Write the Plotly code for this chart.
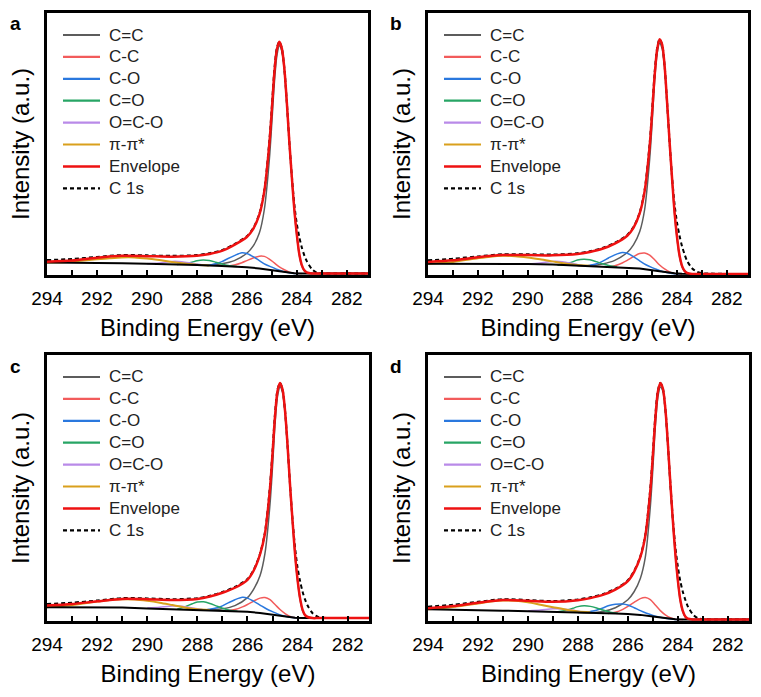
import plotly.graph_objects as go

# ---------------- data (binding energy in eV, intensity in a.u.) ----------------
E_MAIN = [294.0, 293.0, 292.0, 291.0, 290.0, 289.0, 288.0, 287.5, 287.0, 286.5,
          286.0, 285.75, 285.5, 285.3, 285.1, 285.0, 284.9, 284.8, 284.7, 284.6,
          284.5, 284.4, 284.3, 284.2, 284.1, 284.0, 283.9, 283.8, 283.7, 283.6,
          283.4, 283.2, 283.0, 282.5, 282.0, 281.0]
E_BG = [294.0, 292.0, 291.0, 290.0, 289.0, 288.0, 287.0, 286.5, 286.0, 285.5,
        285.0, 284.7, 284.4, 284.1, 283.8, 283.5, 283.0, 281.0]
E_CEC = [288.0, 287.5, 287.0, 286.5, 286.0, 285.75, 285.5, 285.3, 285.1, 285.0,
         284.9, 284.8, 284.7, 284.6, 284.5, 284.4, 284.3, 284.2, 284.1, 284.0,
         283.9, 283.8, 283.7, 283.6, 283.4]
E_CC = [286.8, 286.5, 286.2, 286.0, 285.75, 285.5, 285.3, 285.1, 284.9, 284.7,
        284.5, 284.3, 284.1, 283.8]
E_CO = [287.6, 287.2, 287.0, 286.75, 286.5, 286.2, 286.0, 285.75, 285.5, 285.25,
        285.0, 284.75, 284.5, 284.2, 283.9]
E_CEO = [288.8, 288.5, 288.2, 288.0, 287.75, 287.5, 287.25, 287.0, 286.7, 286.4]
E_OCO = [290.0, 289.5, 289.0, 288.6, 288.2, 287.8]
E_PI = [294.0, 293.0, 292.0, 291.5, 291.0, 290.5, 290.0, 289.5, 289.0, 288.5, 288.0, 287.5]

X_TICKS = [294, 292, 290, 288, 286, 284, 282]

# panel a
ENV_A = [5.1, 5.5, 6.6, 7.3, 7.2, 7.0, 7.3, 8.0, 9.2, 11.5, 14.5, 17.5, 23, 32, 50, 63, 77, 86, 89, 86.5,
         79, 66, 51, 37.5, 25, 15.5, 8, 3.8, 1.8, 1.0, 0.6, 0.6, 0.6, 0.6, 0.6, 0.6]
C1S_A = [5.7, 6.1, 6.9, 7.6, 7.5, 7.3, 7.6, 8.3, 9.5, 11.8, 14.8, 17.8, 23.3, 32.5, 51, 64, 78, 86.5, 89, 86.5,
         79, 66, 51, 38, 27, 19.5, 14.5, 10.5, 7.5, 5.3, 2.3, 0.9, 0.6, 0.6, 0.6, 0.6]
CEC_A = [3.85, 3.8, 4.3, 5.5, 8.3, 11, 16, 25, 44, 58, 73, 83.5, 87.5, 85.5, 78, 65.5, 50.5, 37, 24.5, 15,
         7.6, 3.5, 1.6, 0.9, 0.6]
CC_A = [3.3, 3.8, 4.7, 5.5, 6.5, 7.2, 7.1, 6.1, 4.6, 3.1, 2.0, 1.1, 0.7, 0.6]
CO_A = [3.6, 4.4, 5.1, 6.3, 7.4, 8.5, 8.2, 7.0, 5.5, 4.0, 3.0, 2.0, 1.2, 0.7, 0.6]
CEO_A = [4.0, 4.3, 4.9, 5.4, 5.7, 5.5, 4.9, 4.2, 3.5, 3.2]
OCO_A = [4.3, 4.6, 5.2, 5.1, 4.5, 3.9]
PI_A = [4.8, 5.1, 6.0, 6.4, 6.7, 6.7, 6.3, 5.7, 5.0, 4.4, 3.9, 3.6]
BG_A = [4.8, 4.7, 4.5, 4.3, 4.1, 3.8, 3.4, 3.2, 3.0, 2.5, 1.8, 1.3, 0.85, 0.65, 0.6, 0.6, 0.6, 0.6]

# panel b
ENV_B = [5.0, 5.6, 6.8, 7.6, 7.6, 7.5, 8.0, 8.8, 10.0, 12.0, 15.0, 18.0, 23.5, 32, 49, 62, 76, 86, 90, 88,
         80, 66, 51, 37, 24, 14.5, 7.5, 3.5, 1.6, 0.8, 0.4, 0.4, 0.4, 0.4, 0.4, 0.4]
C1S_B = [5.6, 6.2, 7.1, 7.9, 7.9, 7.8, 8.3, 9.1, 10.3, 12.3, 15.3, 18.3, 23.8, 32.5, 50, 63, 77, 86.5, 90, 88,
         80, 66, 51, 37.5, 27, 20, 15, 11, 8, 5.5, 2.6, 1.2, 0.7, 0.5, 0.4, 0.4]
CEC_B = [3.6, 3.5, 4.2, 5.6, 8.6, 11.5, 16.5, 25, 44, 58, 74, 84.5, 88.5, 86.5, 79, 65.5, 50.5, 36.5, 23.5, 14,
         7, 3.2, 1.4, 0.7, 0.4]
CC_B = [3.0, 3.5, 4.6, 5.6, 7.0, 8.2, 8.4, 7.6, 5.8, 3.8, 2.3, 1.2, 0.6, 0.4]
CO_B = [3.5, 4.4, 5.2, 6.5, 7.7, 8.6, 8.3, 7.0, 5.4, 3.9, 2.8, 1.9, 1.1, 0.6, 0.4]
CEO_B = [3.7, 4.1, 5.0, 5.7, 6.0, 5.8, 5.1, 4.3, 3.5, 3.1]
OCO_B = [4.2, 4.6, 5.2, 5.1, 4.4, 3.6]
PI_B = [4.3, 5.0, 6.4, 7.0, 7.3, 7.2, 6.7, 6.0, 5.2, 4.4, 3.8, 3.5]
BG_B = [4.3, 4.3, 4.2, 4.2, 4.0, 3.6, 3.3, 3.1, 2.9, 2.5, 1.8, 1.4, 0.9, 0.7, 0.5, 0.4, 0.4, 0.4]

# panel c
ENV_C = [5.8, 6.4, 7.4, 8.3, 8.2, 7.9, 8.3, 9.2, 10.6, 12.5, 15.5, 19.0, 25, 33, 50, 63, 77, 86.5, 89.5, 87,
         79, 66, 51, 37.5, 25, 15.5, 8.5, 4.2, 2.2, 1.5, 1.1, 1.1, 1.1, 1.1, 1.1, 1.1]
C1S_C = [6.4, 6.9, 7.7, 8.6, 8.5, 8.2, 8.6, 9.5, 10.9, 12.8, 15.8, 19.3, 25.3, 33.5, 51, 64, 78, 87, 89.5, 87,
         79, 66, 51, 38, 27.5, 20, 15, 11, 8, 5.8, 2.9, 1.6, 1.2, 1.1, 1.1, 1.1]
CEC_C = [4.3, 4.2, 4.6, 5.8, 8.8, 12, 17, 25.5, 44, 58, 74, 84.5, 88, 86, 78, 65.5, 50.5, 37, 24.5, 15,
         8, 3.9, 2.0, 1.4, 1.1]
CC_C = [3.9, 4.3, 5.3, 6.2, 7.5, 8.6, 8.8, 8.0, 6.2, 4.3, 2.8, 1.7, 1.2, 1.1]
CO_C = [4.3, 5.0, 5.7, 6.9, 8.0, 8.9, 8.6, 7.4, 6.0, 4.6, 3.5, 2.5, 1.8, 1.3, 1.1]
CEO_C = [4.5, 5.3, 6.5, 7.1, 7.2, 6.6, 5.7, 4.8, 4.0, 3.7]
OCO_C = [4.9, 5.2, 5.6, 5.5, 4.9, 4.3]
PI_C = [5.2, 6.0, 7.3, 7.9, 8.2, 8.1, 7.6, 6.9, 6.0, 5.1, 4.4, 4.1]
BG_C = [5.2, 5.2, 5.1, 4.7, 4.4, 4.2, 4.0, 3.8, 3.5, 3.0, 2.3, 1.9, 1.5, 1.2, 1.1, 1.1, 1.1, 1.1]

# panel d
ENV_D = [4.8, 5.6, 6.9, 7.9, 7.6, 7.2, 7.8, 8.6, 9.8, 11.8, 15.0, 18.5, 24, 32, 49, 62, 76, 86, 89.5, 87.5,
         80, 67, 52, 38, 25.5, 15.5, 8, 3.8, 1.7, 0.9, 0.6, 0.6, 0.6, 0.6, 0.6, 0.6]
C1S_D = [5.4, 6.1, 7.2, 8.2, 7.9, 7.5, 8.1, 8.9, 10.1, 12.1, 15.3, 18.8, 24.3, 32.5, 50, 63, 77, 86.5, 89.5, 87.5,
         80, 67, 52, 38.5, 28, 20.5, 15, 11, 8, 5.5, 2.5, 1.1, 0.7, 0.6, 0.6, 0.6]
CEC_D = [3.2, 3.1, 3.6, 5.0, 8.0, 11, 16, 24, 43, 57, 73, 84, 88, 86.5, 79, 66, 51, 37.5, 25, 15,
         7.6, 3.5, 1.5, 0.8, 0.6]
CC_D = [2.8, 3.3, 4.4, 5.5, 7.0, 8.4, 8.8, 8.0, 6.0, 3.9, 2.3, 1.2, 0.7, 0.6]
CO_D = [3.3, 4.2, 4.9, 5.8, 6.3, 6.4, 6.0, 5.0, 3.9, 2.9, 2.1, 1.5, 1.0, 0.7, 0.6]
CEO_D = [3.5, 4.0, 4.8, 5.4, 5.7, 5.5, 4.9, 4.1, 3.3, 2.9]
OCO_D = [3.8, 4.1, 4.6, 4.5, 4.0, 3.3]
PI_D = [4.4, 5.3, 6.6, 7.3, 7.7, 7.6, 7.0, 6.1, 5.2, 4.3, 3.6, 3.3]
BG_D = [4.4, 4.2, 3.9, 3.7, 3.5, 3.2, 3.0, 2.8, 2.6, 2.3, 1.7, 1.3, 0.9, 0.7, 0.6, 0.6, 0.6, 0.6]

# ---------------- styling / layout ----------------
W, H = 761, 697
FONT = "Liberation Sans, Arial, sans-serif"

SERIES = [  # legend entries: name, colour, dash
    ("C=C", "#5c5c5c", "solid"),
    ("C-C", "#f25b5b", "solid"),
    ("C-O", "#2a78de", "solid"),
    ("C=O", "#27a565", "solid"),
    ("O=C-O", "#b98ae8", "solid"),
    ("π-π*", "#d9a01c", "solid"),
    ("Envelope", "#ee1111", "solid"),
    ("C 1s", "#000000", "dash"),
]
COLORS = {s[0]: s[1] for s in SERIES}

PANELS = [
    # label, x-domain px (left, right), y-domain px (top, bottom), data
    ("a", (47, 368), (13, 275), dict(env=ENV_A, c1s=C1S_A, cec=CEC_A, cc=CC_A, co=CO_A, ceo=CEO_A, oco=OCO_A, pi=PI_A, bg=BG_A)),
    ("b", (428, 748), (13, 275), dict(env=ENV_B, c1s=C1S_B, cec=CEC_B, cc=CC_B, co=CO_B, ceo=CEO_B, oco=OCO_B, pi=PI_B, bg=BG_B)),
    ("c", (47, 369), (355, 621), dict(env=ENV_C, c1s=C1S_C, cec=CEC_C, cc=CC_C, co=CO_C, ceo=CEO_C, oco=OCO_C, pi=PI_C, bg=BG_C)),
    ("d", (428, 749), (355, 621), dict(env=ENV_D, c1s=C1S_D, cec=CEC_D, cc=CC_D, co=CO_D, ceo=CEO_D, oco=OCO_D, pi=PI_D, bg=BG_D)),
]

fig = go.Figure()
shapes, annotations = [], []
layout_axes = {}

for i, (lab, (x0, x1), (yt, yb), d) in enumerate(PANELS, start=1):
    xa = "x" if i == 1 else f"x{i}"
    ya = "y" if i == 1 else f"y{i}"

    def add(x, y, name, color, width, dash="solid", shape="spline"):
        line = dict(color=color, width=width, dash=dash, shape=shape)
        if shape == "spline":
            line["smoothing"] = 0.8
        fig.add_trace(go.Scatter(x=x, y=y, mode="lines", name=name, showlegend=False,
                                 line=line, xaxis=xa, yaxis=ya))

    add(E_CEC, d["cec"], "C=C", COLORS["C=C"], 1.5)
    add(E_CC, d["cc"], "C-C", COLORS["C-C"], 1.5)
    add(E_CO, d["co"], "C-O", COLORS["C-O"], 1.5)
    add(E_CEO, d["ceo"], "C=O", COLORS["C=O"], 1.5)
    add(E_OCO, d["oco"], "O=C-O", COLORS["O=C-O"], 1.5)
    add(E_PI, d["pi"], "π-π*", COLORS["π-π*"], 2.0)
    add(E_BG, d["bg"], "Background", "#000000", 2.0, shape="linear")
    add(E_MAIN, d["c1s"], "C 1s", "#000000", 2.0, dash="4px,3px")
    add(E_MAIN, d["env"], "Envelope", COLORS["Envelope"], 2.5)

    pw, ph = x1 - x0, yb - yt
    xdom = [x0 / W, x1 / W]
    ydom = [1 - yb / H, 1 - yt / H]
    axis_common = dict(showline=True, linecolor="black", linewidth=2.5, mirror=True,
                       showgrid=False, zeroline=False, automargin=False)
    layout_axes["xaxis" if i == 1 else f"xaxis{i}"] = dict(
        domain=xdom, anchor=ya, range=[294, 281.15], tickmode="array", tickvals=X_TICKS,
        ticks="inside", ticklen=5, tickwidth=2, tickcolor="black", ticklabelstandoff=4,
        minor=dict(ticks="inside", ticklen=5, tickwidth=2, tickcolor="black", dtick=1, tick0=293),
        tickfont=dict(family=FONT, size=19, color="black"),
        title=dict(text="Binding Energy (eV)", font=dict(family=FONT, size=24, color="black"), standoff=12),
        **axis_common)
    layout_axes["yaxis" if i == 1 else f"yaxis{i}"] = dict(
        domain=ydom, anchor=xa, range=[0, 100], showticklabels=False, ticks="",
        title=dict(text="Intensity (a.u.)", font=dict(family=FONT, size=24, color="black"), standoff=8),
        **axis_common)

    # panel letter
    annotations.append(dict(text=f"<b>{lab}</b>", x=(x0 - 32) / W, y=1 - (yt + 11) / H, xref="paper", yref="paper",
                            showarrow=False, xanchor="center", yanchor="middle",
                            font=dict(family=FONT, size=19, color="black")))

    # in-panel legend
    for k, (name, color, dash) in enumerate(SERIES):
        yy = 1 - (22 + k * 21.9) / ph
        shapes.append(dict(type="line", xref=f"{xa} domain", yref=f"{ya} domain",
                           x0=16 / pw, x1=53 / pw, y0=yy, y1=yy,
                           line=dict(color=color, width=2.5 if name == "Envelope" else 2.2,
                                     dash="4px,3px" if dash == "dash" else "solid")))
        annotations.append(dict(text=name, xref=f"{xa} domain", yref=f"{ya} domain",
                                x=60 / pw, y=yy, xanchor="left", yanchor="middle", showarrow=False,
                                font=dict(family=FONT, size=17, color="#222222")))

fig.update_layout(
    template="none",
    width=W, height=H, autosize=False,
    margin=dict(l=0, r=0, t=0, b=0, autoexpand=False),
    paper_bgcolor="white", plot_bgcolor="white",
    showlegend=False, shapes=shapes, annotations=annotations,
    **layout_axes)

fig.write_html("out.html", config={"displayModeBar": False},
               post_script="document.body.style.margin='0';document.body.style.overflow='hidden';")
